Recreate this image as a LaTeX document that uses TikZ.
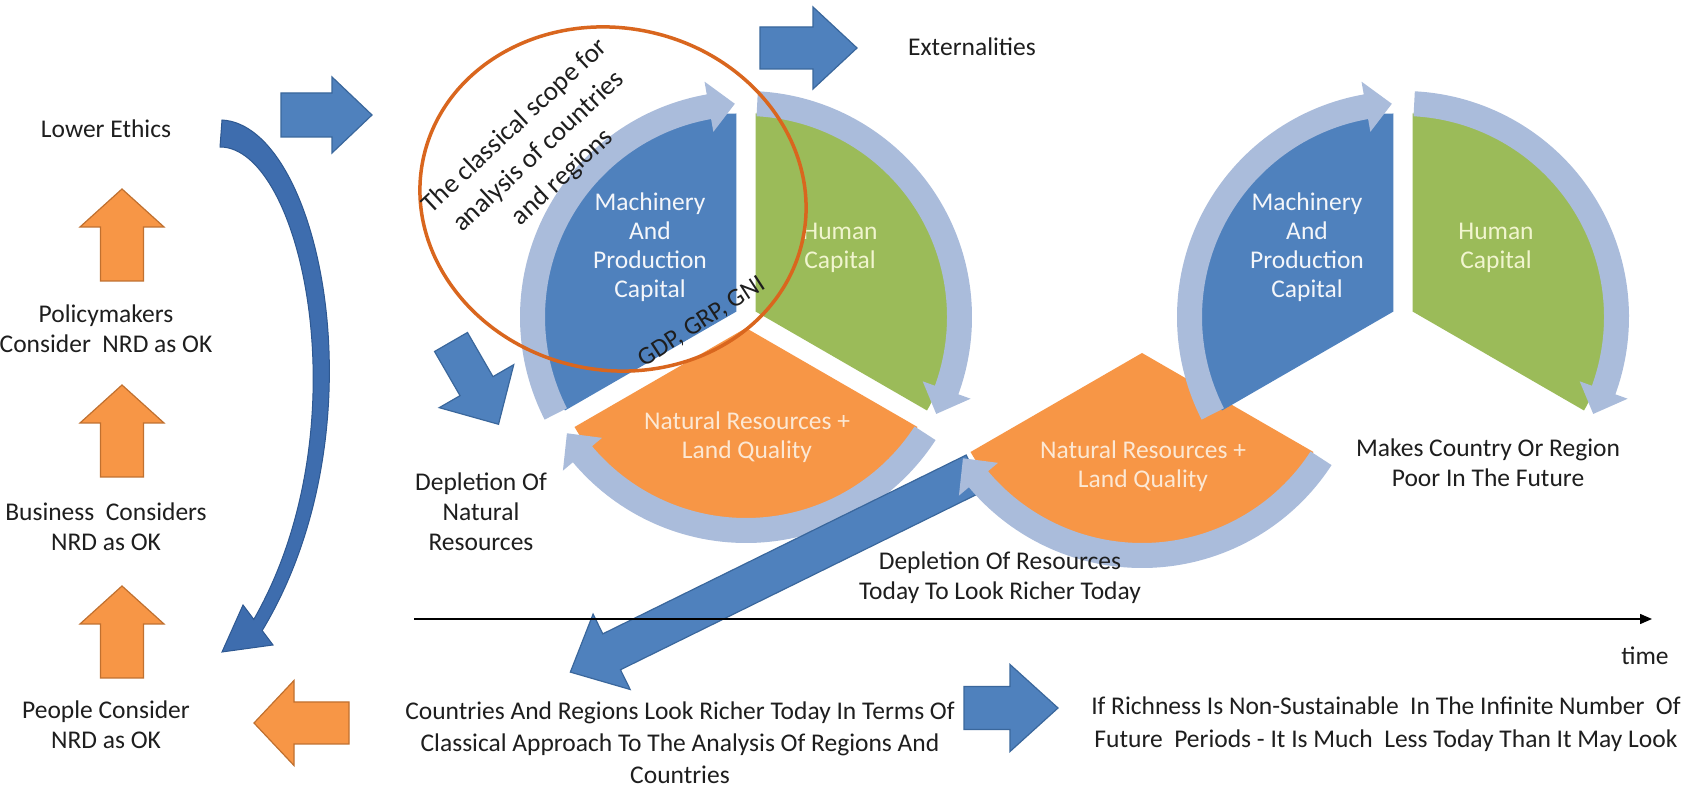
\documentclass[tikz,border=0pt]{standalone}
\usepackage{fontspec}
\setmainfont{Carlito}
\usetikzlibrary{arrows.meta,calc}
\definecolor{cblue}{HTML}{4F81BD}
\definecolor{cgreen}{HTML}{9BBB59}
\definecolor{corange}{HTML}{F79646}
\definecolor{cring}{HTML}{AABCDB}
\definecolor{bluedge}{HTML}{3A679C}
\definecolor{orangeedge}{HTML}{C0702F}
\definecolor{curveblue}{HTML}{3E6DAE}
\definecolor{curveedge}{HTML}{2E5891}
\definecolor{ellcol}{HTML}{D9661E}
\definecolor{txt}{HTML}{1E1E1E}
\definecolor{wtxtb}{HTML}{F4F6FA}
\definecolor{wtxtg}{HTML}{F1F5CF}
\definecolor{wtxto}{HTML}{FCE8D4}
\tikzset{
 lbl/.style={font=\fontsize{25.5}{30}\selectfont, text=txt, align=center, inner sep=0pt},
 wlbl/.style={font=\fontsize{25.5}{29}\selectfont, align=center, inner sep=0pt},
 bluearrow/.style={fill=cblue, draw=bluedge, line width=1.2pt},
 orangearrow/.style={fill=corange, draw=orangeedge, line width=1.2pt},
 ringshape/.style={fill=cring},
}
% #1 style, #2 x, #3 y (tail centre), #4 angle, #5 length, #6 shaft width, #7 head width, #8 head length
\newcommand{\BlkArrow}[8]{%
 \begin{scope}[shift={(#2,#3)},rotate=#4]
 \draw[#1] (0,-#6/2) -- (#5-#8,-#6/2) -- (#5-#8,-#7/2) -- (#5,0) -- (#5-#8,#7/2) -- (#5-#8,#6/2) -- (0,#6/2) -- cycle;
 \end{scope}}
% ring arrow: centre x, y, start angle, end angle (clockwise)
\newcommand{\RingArrow}[4]{%
 \begin{scope}[shift={(#1,#2)}]
 \fill[ringshape] (#3:226) arc[start angle=#3, end angle=#4+7, radius=226] -- (#4+7:239) -- (#4:213.5) -- (#4+7:188) -- (#4+7:201) arc[start angle=#4+7, end angle=#3, radius=201] -- cycle;
 \end{scope}}
% wedge: centre x, y, a1, a2, colour
\newcommand{\Wedge}[5]{%
 \begin{scope}[shift={(#1,#2)}]
 \fill[#5] ({(#3+#4)/2}:11) -- ++(#3:198) arc[start angle=#3, end angle=#4, radius=198] -- cycle;
 \end{scope}}
\begin{document}
\begin{tikzpicture}[x=1pt,y=1pt]
\useasboundingbox (0,0) rectangle (1708,787);
\fill[white] (0,0) rectangle (1708,787);

% ---- cycle 1
\Wedge{746}{470}{90}{210}{cblue}
\Wedge{746}{470}{-30}{90}{cgreen}
\Wedge{746}{470}{210}{330}{corange}
\RingArrow{746}{470}{207}{93}
\RingArrow{746}{470}{87}{-27}
\RingArrow{746}{470}{327}{213}
\node[wlbl,text=wtxtb] (mach1) at (650,540) {Machinery\\And\\Production\\Capital};
\node[wlbl,text=wtxtg] (hum1) at (840,539) {Human\\Capital};
\node[wlbl,text=wtxto] (nat1) at (747,350) {Natural Resources +\\Land Quality};

% ---- big arrow
\BlkArrow{bluearrow}{975}{314}{206.2}{451}{40}{84}{46}

% ---- cycle 2
\Wedge{1142}{445}{210}{330}{corange}
\Wedge{1403}{470}{90}{210}{cblue}
\Wedge{1403}{470}{-30}{90}{cgreen}
\RingArrow{1403}{470}{207}{93}
\RingArrow{1403}{470}{87}{-27}
\RingArrow{1142}{445}{327}{213}
\node[wlbl,text=wtxtb] (mach2) at (1307,540) {Machinery\\And\\Production\\Capital};
\node[wlbl,text=wtxtg] (hum2) at (1496,539) {Human\\Capital};
\node[wlbl,text=wtxto] (nat2) at (1143,321) {Natural Resources +\\Land Quality};

% ---- block arrows
\BlkArrow{bluearrow}{281}{672}{0}{91}{44}{76}{40}
\BlkArrow{bluearrow}{760}{739}{0}{97}{42}{82}{44}
\BlkArrow{bluearrow}{451}{445}{-60}{95}{38}{86}{44}
\BlkArrow{bluearrow}{964}{79}{0}{94}{43}{87}{48}
\BlkArrow{orangearrow}{349}{64}{180}{95}{42}{85}{40}
\BlkArrow{orangearrow}{122}{506}{90}{92}{43}{84}{38}
\BlkArrow{orangearrow}{122}{310}{90}{92}{43}{84}{38}
\BlkArrow{orangearrow}{122}{109}{90}{92}{43}{84}{38}

% ---- curved arrow
\draw[fill=curveblue, draw=curveedge, line width=1pt]
 (222,667) .. controls (320,662) and (385,360) .. (262.2,156.4)
 -- (273,142) -- (222,135) -- (243,182) -- (253.8,167.6)
 .. controls (364,360) and (302,640) .. (220,640) -- cycle;

% ---- scope ellipse
\draw[ellcol, line width=3.5pt, rotate around={-12:(613,588)}] (613,588) ellipse [x radius=194, y radius=171];

% ---- time axis
\coordinate (t0) at (414,168);
\coordinate (t1) at (1652,168);
\draw[line width=1.4pt, -{Triangle[length=12pt,width=10pt]}] (t0) -- (t1);

% ---- labels
\node[lbl] (ethics) at (106,658) {Lower Ethics};
\node[lbl] (policy) at (106,458) {Policymakers\\Consider\ \ NRD as OK};
\node[lbl] (business) at (106,260) {Business\ \ Considers\\NRD as OK};
\node[lbl] (people) at (106,62) {People Consider\\NRD as OK};
\node[lbl] (ext) at (972,740) {Externalities};
\node[lbl] (depl) at (481,275) {Depletion Of\\Natural\\Resources};
\node[lbl] (deplr) at (1000,209) {Depletion Of Resources\\Today To Look Richer Today};
\node[lbl] (makes) at (1488,324) {Makes Country Or Region\\Poor In The Future};
\node[lbl] (time) at (1645,131) {time};
\node[lbl, font=\fontsize{25.5}{32}\selectfont] (countries) at (680,44) {Countries And Regions Look Richer Today In Terms Of\\Classical Approach To The Analysis Of Regions And\\Countries};
\node[lbl, font=\fontsize{25.5}{33}\selectfont] (rich) at (1386,63) {If Richness Is Non-Sustainable\ \ In The Infinite Number\ \ Of\\Future\ \ Periods - It Is Much\ \ Less Today Than It May Look};
\node[lbl, rotate=43, font=\fontsize{27}{35}\selectfont] (scope) at (539,635) {The classical scope for\\analysis of countries\\and regions};
\node[lbl, rotate=33] (gdp) at (702,465) {GDP, GRP, GNI};
\end{tikzpicture}
\end{document}
